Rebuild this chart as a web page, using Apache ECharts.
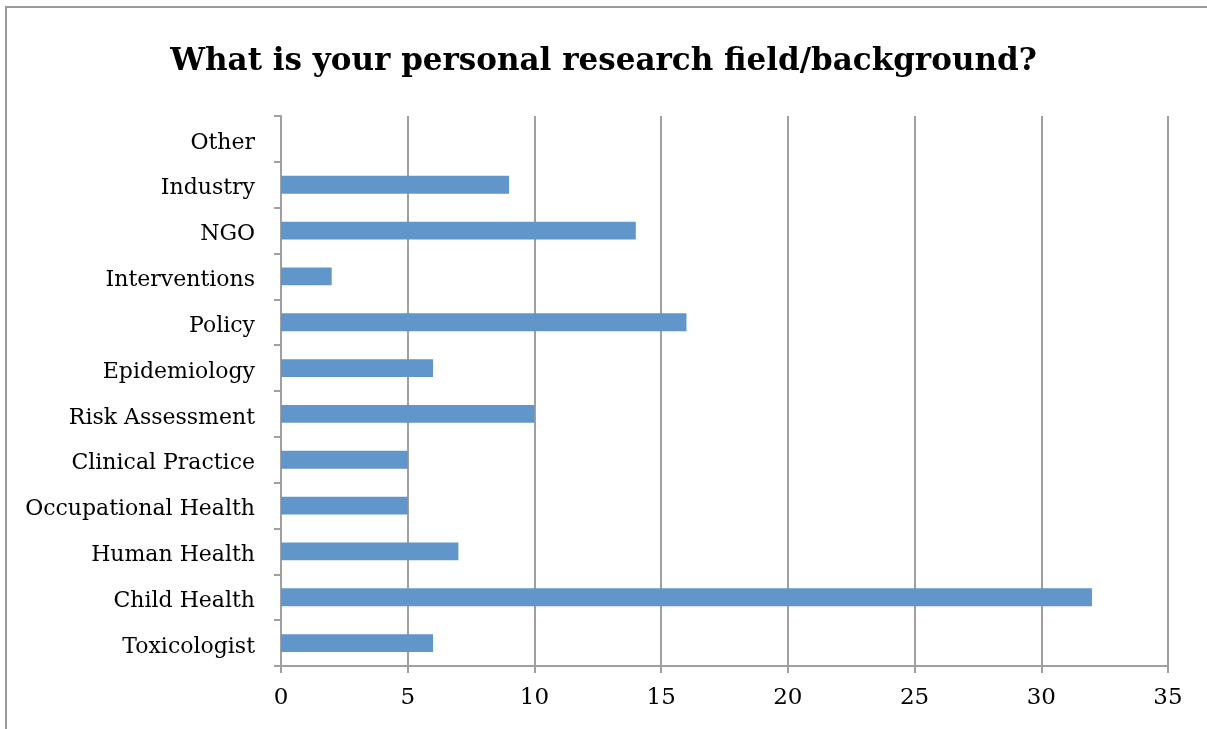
<!DOCTYPE html>
<html><head><meta charset="utf-8">
<script src="https://cdn.jsdelivr.net/npm/echarts@6/dist/echarts.min.js"></script>
<style>html,body{margin:0;padding:0;background:#fff}#c{width:1207px;height:729px}</style>
</head><body><div id="c"></div>
<script>
const categories = ['Toxicologist','Child Health','Human Health','Occupational Health','Clinical Practice','Risk Assessment','Epidemiology','Policy','Interventions','NGO','Industry','Other'];
const values = [6,32,7,5,5,10,6,16,2,14,9,0];
const titleText = 'What is your personal research field/background?';
const FONT = 'DejaVu Serif';
const chart = echarts.init(document.getElementById('c'));
chart.setOption({
  animation:false,
  backgroundColor:'#fff',
  title:{text:titleText,left:'center',top:41,itemGap:0,textStyle:{fontFamily:FONT,fontWeight:'bold',fontSize:31,color:'#000'}},
  graphic:[{type:'rect',shape:{x:6,y:7,width:1400,height:900},style:{fill:'none',stroke:'#9a9a9a',lineWidth:2},silent:true}],
  grid:{left:281,right:39,top:116,bottom:63,containLabel:false},
  xAxis:{type:'value',min:0,max:35,interval:5,
    axisLine:{show:true,lineStyle:{color:'#a0a0a0',width:2}},
    axisTick:{show:true,length:7,lineStyle:{color:'#a0a0a0',width:2}},
    splitLine:{show:true,lineStyle:{color:'#a0a0a0',width:2}},
    axisLabel:{fontFamily:FONT,fontSize:23,color:'#000',margin:21}},
  yAxis:{type:'category',data:categories,
    axisLine:{show:true,lineStyle:{color:'#a0a0a0',width:2}},
    axisTick:{show:true,length:7,lineStyle:{color:'#a0a0a0',width:2}},
    axisLabel:{margin:26,formatter:'{a|{value}}',
      rich:{a:{fontFamily:FONT,fontSize:22,color:'#000',padding:[8,0,0,0]}}}},
  series:[{type:'bar',data:values,barCategoryGap:'61%',itemStyle:{color:'#6096C9'}}]
});
</script></body></html>
